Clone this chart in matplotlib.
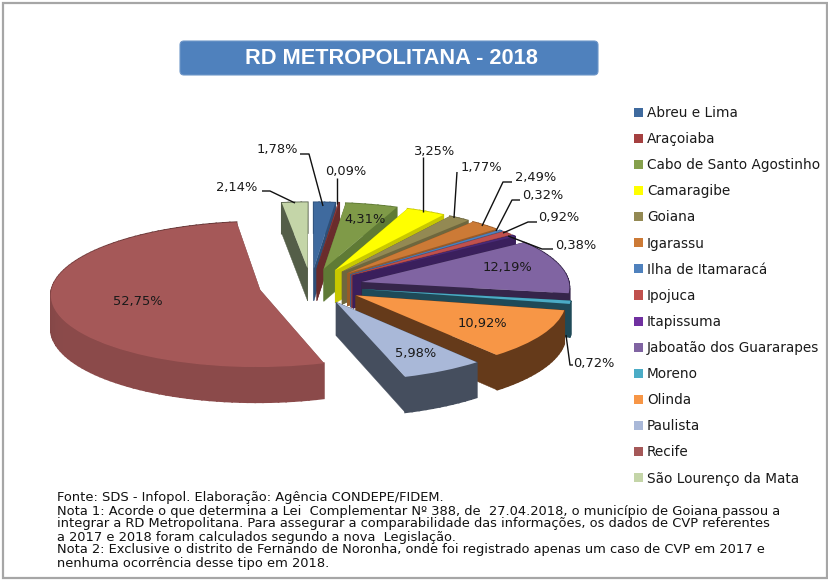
import numpy as np
import matplotlib
matplotlib.use("Agg")
import matplotlib.pyplot as plt
from matplotlib.patches import Polygon, Rectangle, FancyBboxPatch, Patch
from matplotlib.transforms import Transform

categories = ["Abreu e Lima", "Araçoiaba", "Cabo de Santo Agostinho", "Camaragibe", "Goiana",
              "Igarassu", "Ilha de Itamaracá", "Ipojuca", "Itapissuma", "Jaboatão dos Guararapes",
              "Moreno", "Olinda", "Paulista", "Recife", "São Lourenço da Mata"]
values = [1.78, 0.09, 4.31, 3.25, 1.77, 2.49, 0.32, 0.92, 0.38, 12.19, 0.72, 10.92, 5.98, 52.75, 2.14]
colors = ["#3F6A9E", "#8F3C3C", "#7F9A48", "#FFFF00", "#938953", "#CC7A36", "#4F81BD", "#C0504D",
          "#4A2A78", "#8064A2", "#4BACC6", "#F79646", "#A9B8D8", "#A55858", "#C4D5A8"]
legend_colors = ["#3F6A9E", "#A54040", "#85A04C", "#FFFF00", "#938953", "#CC7A36", "#4F81BD", "#C0504D",
                 "#7030A0", "#8064A2", "#4BACC6", "#F79646", "#A9B8D8", "#A55858", "#C4D5A8"]
side_colors = ["#2E4F78", "#6A2C2C", "#5F7A35", "#C8C800", "#6E673E", "#995B28", "#3B618E", "#903C3A",
               "#3A1F5C", "#35254A", "#1F4A58", "#653A1A", "#454E5E", "#8A5454", "#545E48"]

label_pos = [(277, 150), (346, 172), (365, 219), (434, 152), (481, 168), (536, 178), (543, 196),
             (559, 218), (576, 245), (507, 268), (594, 364), (482, 324), (416, 353), (138, 301), (237, 187)]
leaders = {
    0: [(300, 154), (309, 154), (323, 206)],
    1: [(337, 178), (337, 204)],
    3: [(423, 157), (423, 212)],
    4: [(457, 172), (454, 218)],
    5: [(512, 182), (503, 182), (482, 226)],
    6: [(520, 200), (512, 200), (496, 231)],
    7: [(537, 222), (528, 222), (503, 233)],
    8: [(553, 249), (542, 249), (508, 236)],
    10: [(573, 365), (570, 365), (566, 335)],
    14: [(262, 191), (270, 191), (295, 203)],
}
title = "RD METROPOLITANA - 2018"
notes = ["Fonte: SDS - Infopol. Elaboração: Agência CONDEPE/FIDEM.",
         "Nota 1: Acorde o que determina a Lei  Complementar Nº 388, de  27.04.2018, o município de Goiana passou a",
         "integrar a RD Metropolitana. Para assegurar a comparabilidade das informações, os dados de CVP referentes",
         "a 2017 e 2018 foram calculados segundo a nova  Legislação.",
         "Nota 2: Exclusive o distrito de Fernando de Noronha, onde foi registrado apenas um caso de CVP em 2017 e",
         "nenhuma ocorrência desse tipo em 2018."]

CX, CY, RX, RY, K, DEPTH = 311.0, 286.0, 208.0, 72.0, 0.06, 33.0


class Persp(Transform):
    input_dims = output_dims = 2
    is_affine = False

    def __init__(self, z=0.0):
        super().__init__()
        self.z = z

    def transform_non_affine(self, pts):
        pts = np.asarray(pts, float)
        u, v = pts[:, 0], pts[:, 1]
        s = 1.0 / (1.0 + K * v)
        return np.column_stack([CX + RX * u * s, CY - RY * v * s + self.z * s])


fig = plt.figure(figsize=(8.29, 5.80), dpi=100)
ax = fig.add_axes([0, 0, 1, 1])
wedges, _ = ax.pie(values, colors=colors, startangle=90, counterclock=False,
                   explode=[0.25] * len(values), radius=1.0,
                   wedgeprops=dict(linewidth=0))
ax.set_aspect("auto")
ax.set_xlim(0, 829)
ax.set_ylim(580, 0)
ax.set_axis_off()

top = Persp(0.0)
bottom = Persp(DEPTH)
mids = [np.deg2rad((w.theta1 + w.theta2) / 2) for w in wedges]
order = np.argsort([-np.sin(m) for m in mids])


def shade(hexcol, f):
    return tuple(f * c for c in matplotlib.colors.to_rgb(hexcol))


for rank, i in enumerate(order):
    w = wedges[i]
    z0 = 10 + rank * 3
    c0 = np.array(w.center)
    th = np.deg2rad(np.linspace(w.theta1, w.theta2, max(3, int((w.theta2 - w.theta1) / 2) + 2)))
    rim = c0 + w.r * np.column_stack([np.cos(th), np.sin(th)])
    for p in (rim[0], rim[-1]):
        seg = np.array([c0, p])
        quad = np.vstack([top.transform(seg), bottom.transform(seg[::-1])])
        ax.add_patch(Polygon(quad, closed=True, fc=side_colors[i], ec=side_colors[i], lw=0.3, zorder=z0))
    n = len(rim)
    for j in range(n - 1):
        seg = rim[j:j + 2]
        quad = np.vstack([top.transform(seg), bottom.transform(seg[::-1])])
        col = side_colors[i]
        if categories[i] == "Recife":
            t = j / (n - 2)
            col = shade("#A55858", 0.58 + 0.26 * min(1.0, t * 1.8))
        ax.add_patch(Polygon(quad, closed=True, fc=col, ec=col, lw=1.2, zorder=z0 + 1))
    w.set_transform(top + ax.transData)
    w.set_zorder(z0 + 2)

LBL = dict(family="DejaVu Sans", fontsize=9.4, color="#1a1a1a", zorder=100)
for i, (x, y) in enumerate(label_pos):
    ax.text(x, y, f"{values[i]:.2f}%".replace(".", ","), ha="center", va="center", **LBL)
for i, pts in leaders.items():
    xs, ys = zip(*pts)
    ax.plot(xs, ys, color="#111111", lw=1.0, zorder=99, solid_capstyle="butt")

ax.add_patch(Rectangle((3.5, 3), 823.5, 575, fc="none", ec="#A6A6A6", lw=1.6, zorder=1))
ax.add_patch(FancyBboxPatch((183, 44), 412, 28, boxstyle="round,pad=3,rounding_size=4",
                            fc="#4F81BD", ec="#6F97C9", lw=0.8, zorder=2))
ax.text(391, 58, title, ha="center", va="center", color="white", fontweight="bold",
        family="Liberation Sans", fontsize=15.7, zorder=3)

handles = [Patch(fc=c, ec="none") for c in legend_colors]
leg = ax.legend(handles, categories, loc="upper left", bbox_to_anchor=(634 / 829, 1 - 106 / 580),
                bbox_transform=fig.transFigure, frameon=False, prop=dict(family="DejaVu Sans", size=9.8),
                handlelength=0.66, handleheight=0.66, handletextpad=0.28, labelspacing=0.89,
                borderpad=0, borderaxespad=0)
for t in leg.get_texts():
    t.set_color("#1a1a1a")

for k, line in enumerate(notes):
    ax.text(57, 498 + 13 * k, line, ha="left", va="center", family="DejaVu Sans", fontsize=9.35,
            color="#111111", zorder=100)

fig.savefig("out.png", dpi=100, facecolor="white")
